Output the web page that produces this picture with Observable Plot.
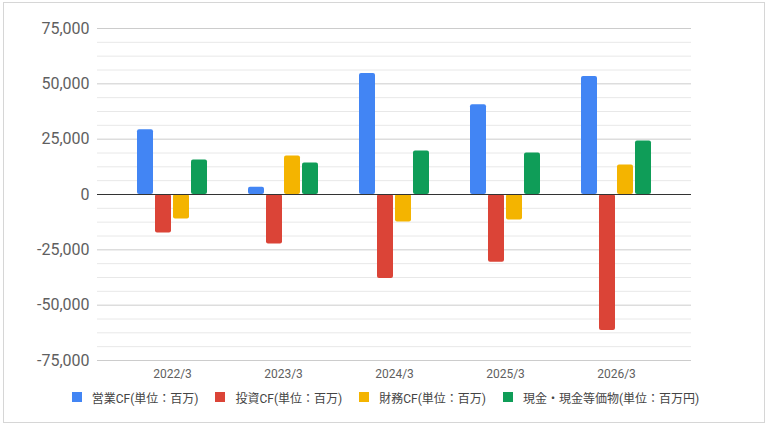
<!DOCTYPE html>
<html>
<head>
<meta charset="utf-8">
<script src="https://cdn.jsdelivr.net/npm/d3@7"></script>
<script src="https://cdn.jsdelivr.net/npm/@observablehq/plot@0.6"></script>
<style>
  html, body { margin: 0; padding: 0; background: #fff; }
  #page { position: relative; width: 767px; height: 426px; overflow: hidden; font-family: Roboto, "Noto Sans CJK JP", sans-serif; }
  #border { position: absolute; left: 3px; top: 2px; width: 762px; height: 421px; box-sizing: border-box; border: 1px solid #d6d6d6; }
  .layer { position: absolute; left: 0; top: 0; }
  .layer svg { background: transparent !important; }
  #legend { position: absolute; left: 2px; top: 388px; width: 767px; height: 18px; display: flex; justify-content: center; align-items: center; gap: 17px; font-size: 12px; color: #444; }
  .item { display: flex; align-items: center; white-space: nowrap; }
  .sw { width: 10px; height: 10px; margin-right: 10px; display: inline-block; }
</style>
</head>
<body>
<div id="page">
  <div id="border"></div>
  <div id="bg" class="layer"></div>
  <div id="fg" class="layer"></div>
  <div id="legend"></div>
</div>
<script>
// ---- data ----
const years = ["2022/3", "2023/3", "2024/3", "2025/3", "2026/3"];
const seriesNames = ["営業CF(単位：百万)", "投資CF(単位：百万)", "財務CF(単位：百万)", "現金・現金等価物(単位：百万円)"];
const operatingCF = [29200, 3300, 54700, 40600, 53300];
const investingCF = [-17400, -22400, -37900, -30600, -61500];
const financingCF = [-11100, 17400, -12400, -11500, 13300];
const cashEquiv = [15600, 14200, 19700, 18800, 24200];
const seriesColors = ["#4285F4", "#DB4437", "#F4B400", "#0F9D58"];
const yTicks = [-75000, -50000, -25000, 0, 25000, 50000, 75000];

const seriesValues = [operatingCF, investingCF, financingCF, cashEquiv];
const rows = [];
years.forEach((yr, i) => {
  seriesNames.forEach((s, j) => rows.push({year: yr, series: s, value: seriesValues[j][i]}));
});

const W = 767, H = 380;
const mL = 97, mR = 76, mT = 28, mB = 20;
const fxPadOuter = 0.1757;
const minorTicks = d3.range(-75000, 75001, 6250).filter(v => !yTicks.includes(v));
const fmt = d => d.toLocaleString("en-US");

// ---- background: grid + axes ----
const bg = Plot.plot({
  width: W, height: H,
  marginLeft: mL, marginRight: mR, marginTop: mT, marginBottom: mB,
  style: {fontFamily: "Roboto, 'Noto Sans CJK JP', sans-serif", fontSize: "12px", color: "#5f5f5f", background: "transparent"},
  x: {type: "band", domain: years, paddingInner: 0, paddingOuter: fxPadOuter, round: false, label: null},
  y: {domain: [-75000, 75000], label: null},
  marks: [
    Plot.ruleY(minorTicks, {stroke: "#e8e8e8", strokeWidth: 1}),
    Plot.ruleY(yTicks, {stroke: "#cccccc", strokeWidth: 1}),
    Plot.ruleY([0], {stroke: "#333333", strokeWidth: 1.2}),
    Plot.axisY(yTicks, {tickSize: 0, tickPadding: 8, fontSize: 16, tickFormat: fmt, label: null}),
    Plot.axisX(years, {tickSize: 0, tickPadding: 9, fontSize: 12, label: null})
  ]
});
document.getElementById("bg").appendChild(bg);

// ---- foreground: grouped bars ----
const fg = Plot.plot({
  width: W, height: H,
  marginLeft: mL, marginRight: mR, marginTop: mT, marginBottom: mB,
  style: {background: "transparent"},
  fx: {domain: years, paddingInner: 0, paddingOuter: fxPadOuter, round: false, axis: null, label: null},
  x: {domain: seriesNames, paddingInner: 2/18, paddingOuter: 1.139, round: false, axis: null, label: null},
  y: {domain: [-75000, 75000], axis: null, label: null},
  color: {domain: seriesNames, range: seriesColors},
  marks: [
    Plot.barY(rows, {fx: "year", x: "series", y: "value", fill: "series", rx: 2}),
    Plot.ruleY([0], {stroke: "#333333", strokeWidth: 1.2})
  ]
});
document.getElementById("fg").appendChild(fg);

// ---- legend ----
const legend = document.getElementById("legend");
seriesNames.forEach((s, i) => {
  const it = document.createElement("div");
  it.className = "item";
  const sw = document.createElement("span");
  sw.className = "sw";
  sw.style.background = seriesColors[i];
  const tx = document.createElement("span");
  tx.textContent = s;
  it.appendChild(sw); it.appendChild(tx);
  legend.appendChild(it);
});
</script>
</body>
</html>
